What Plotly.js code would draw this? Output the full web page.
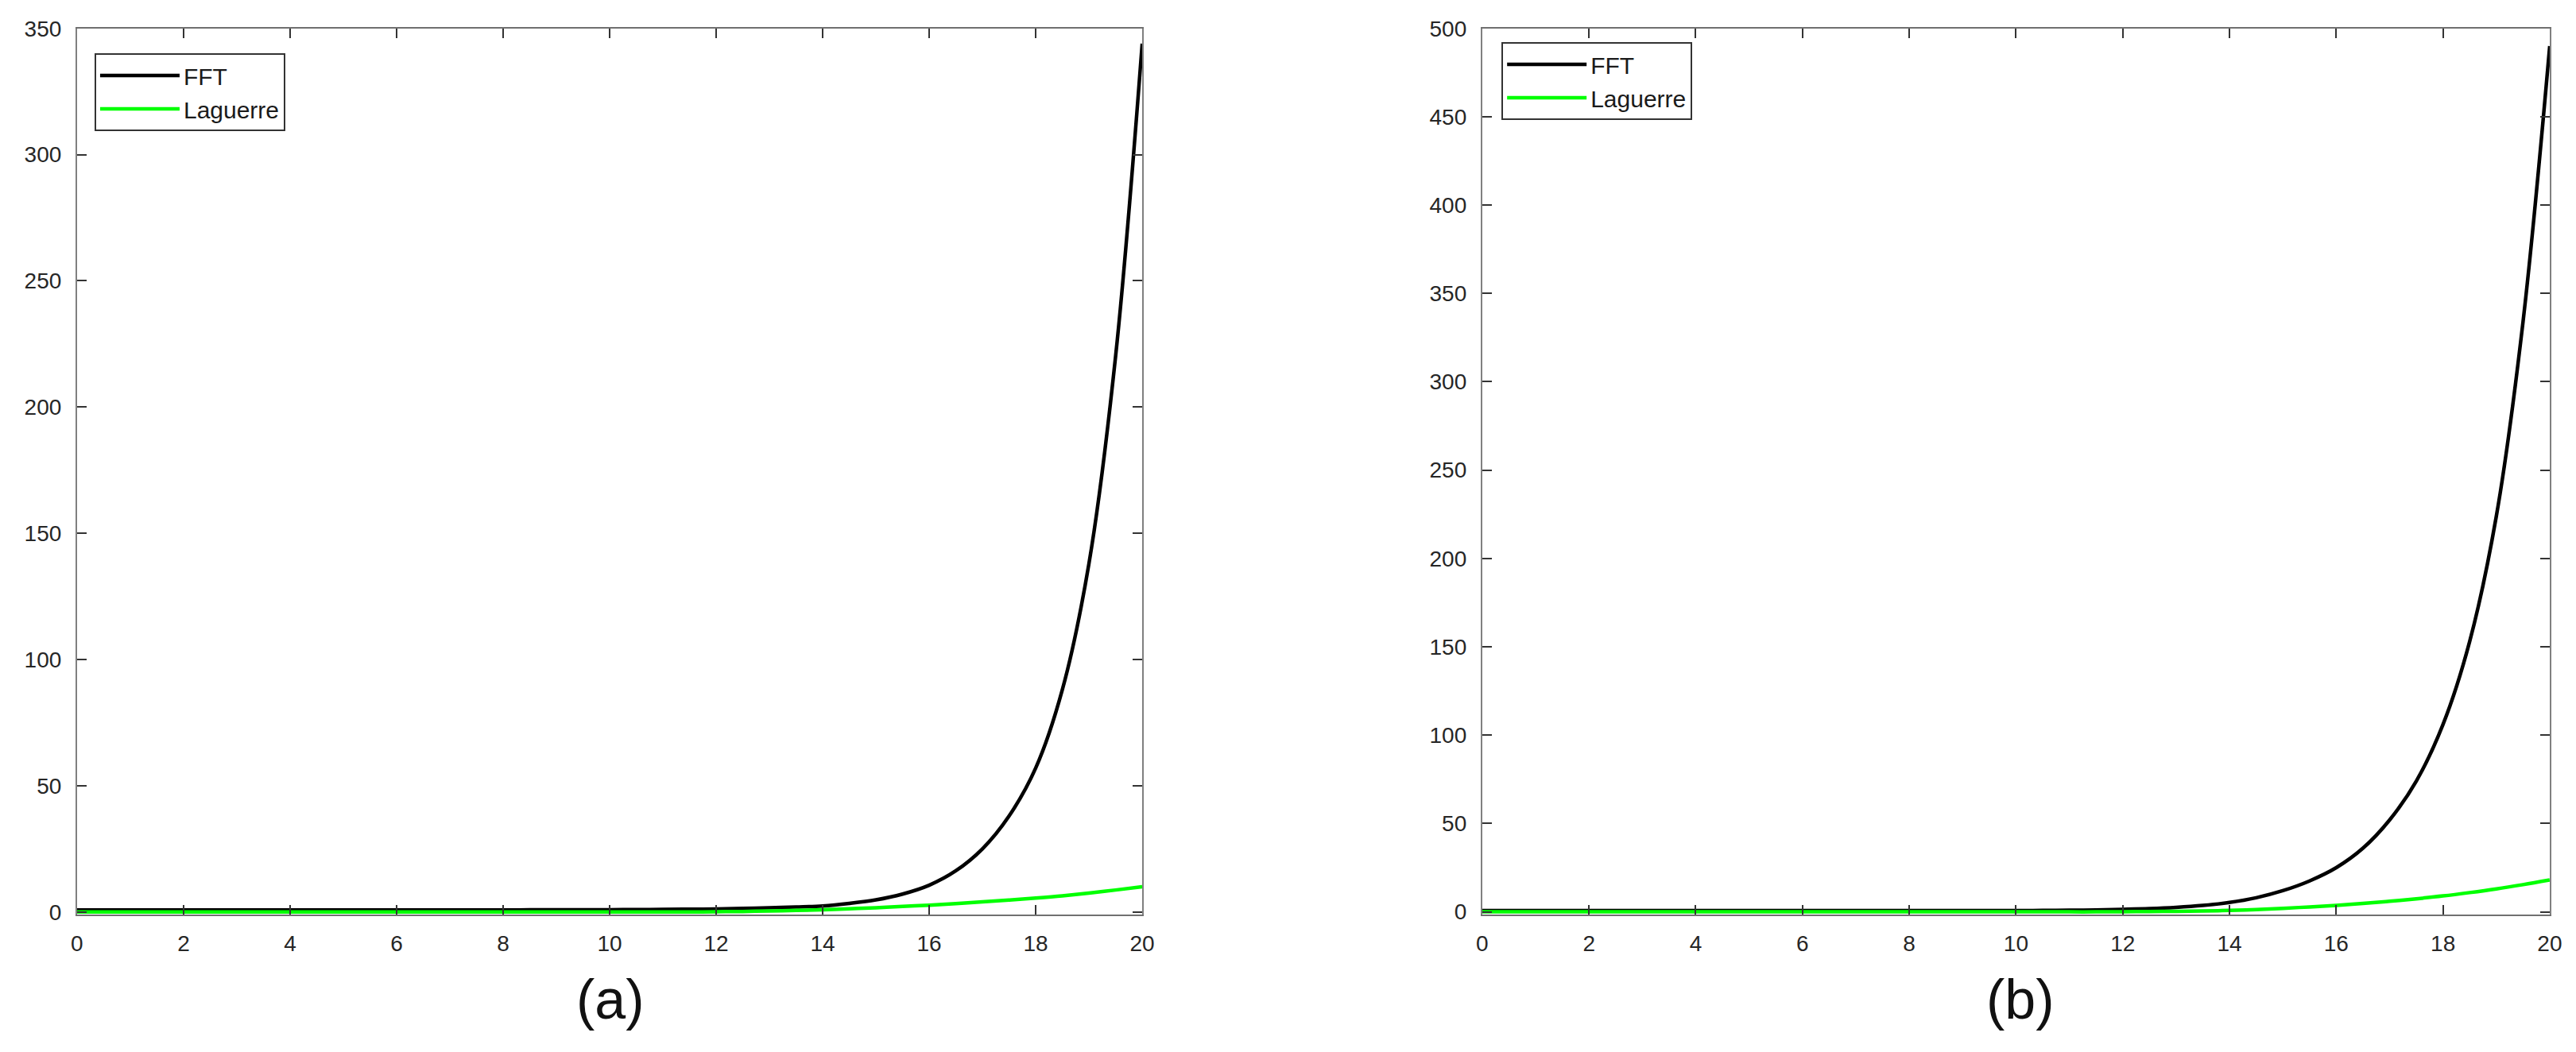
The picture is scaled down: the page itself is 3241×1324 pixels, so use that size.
<!DOCTYPE html>
<html>
<head>
<meta charset="utf-8">
<script src="https://cdn.plot.ly/plotly-3.0.1.min.js"></script>
<style>html,body{margin:0;padding:0;background:#fff;}#chart{width:3241px;height:1324px;}</style>
</head>
<body>
<div id="chart"></div>
<script>
// x grid (shared by both panels)
const xs = [0,0.5,1,1.5,2,2.5,3,3.5,4,4.5,5,5.5,6,6.5,7,7.5,8,8.5,9,9.5,10,10.5,11,11.5,12,12.5,13,13.5,14,14.5,15,15.5,16,16.5,17,17.5,18,18.5,19,19.5,20];

// Panel (a)
const fftA = [0.8,0.8,0.8,0.8,0.8,0.8,0.8,0.8,0.8,0.8,0.8,0.8,0.8,0.8,0.8,0.8,0.8,0.85,0.9,0.9,0.9,0.95,1.0,1.1,1.2,1.4,1.7,2.0,2.4,3.4,4.8,7.1,10.6,16.3,25,38,57,88,138,220,344];
const lagA = [0,0,0,0,0,0,0,0,0,0,0,0,0,0,0,0,0,0,0,0,0,0,0,0,0.1,0.2,0.4,0.6,0.9,1.3,1.7,2.2,2.7,3.3,4.0,4.7,5.5,6.4,7.5,8.7,10];

// Panel (b)
const fftB = [0.7,0.7,0.7,0.7,0.7,0.7,0.7,0.7,0.7,0.7,0.7,0.7,0.7,0.7,0.7,0.7,0.7,0.7,0.7,0.7,0.7,0.8,0.9,1.1,1.4,1.8,2.5,3.6,5.3,8,12,17.5,25,36,52,74,106,153,224,334,490];
const lagB = [0,0,0,0,0,0,0,0,0,0,0,0,0,0,0,0,0,0,0,0,0,0,0,0,0.1,0.2,0.3,0.5,0.8,1.3,2.0,2.8,3.7,4.8,6.0,7.4,9.0,10.9,13,15.4,18];

const seriesNames = ['FFT', 'Laguerre'];
const panelLabels = ['(a)', '(b)'];
const xTicks = [0,2,4,6,8,10,12,14,16,18,20];
const yTicksA = [0,50,100,150,200,250,300,350];
const yTicksB = [0,50,100,150,200,250,300,350,400,450,500];

const FONT = 'Liberation Sans, Arial, Helvetica, sans-serif';
const tickFont = {family: FONT, size: 28, color: '#262626'};

function line(color) {
  return {color: color, width: 4.5, shape: 'spline', smoothing: 1};
}

const traces = [
  {x: xs, y: fftA, name: seriesNames[0], type: 'scatter', mode: 'lines', line: line('#000000'), xaxis: 'x', yaxis: 'y', legend: 'legend'},
  {x: xs, y: lagA, name: seriesNames[1], type: 'scatter', mode: 'lines', line: line('#00ff00'), xaxis: 'x', yaxis: 'y', legend: 'legend'},
  {x: xs, y: fftB, name: seriesNames[0], type: 'scatter', mode: 'lines', line: line('#000000'), xaxis: 'x2', yaxis: 'y2', legend: 'legend2'},
  {x: xs, y: lagB, name: seriesNames[1], type: 'scatter', mode: 'lines', line: line('#00ff00'), xaxis: 'x2', yaxis: 'y2', legend: 'legend2'}
];

function xAxis(domain, anchor) {
  return {
    domain: domain, anchor: anchor, range: [0, 20],
    tickvals: xTicks, ticktext: xTicks.map(String),
    ticks: 'inside', ticklen: 12, tickwidth: 2, tickcolor: '#333',
    showline: true, linecolor: '#707070', linewidth: 2, mirror: 'ticks',
    showgrid: false, zeroline: false, tickfont: tickFont, ticklabelstandoff: 10
  };
}
function yAxis(range, ticks, anchor) {
  return {
    domain: [0.1307, 0.973], anchor: anchor, range: range,
    tickvals: ticks, ticktext: ticks.map(String),
    ticks: 'inside', ticklen: 12, tickwidth: 2, tickcolor: '#333',
    showline: true, linecolor: '#808080', linewidth: 2, mirror: 'ticks',
    showgrid: false, zeroline: false, tickfont: tickFont, ticklabelstandoff: 12
  };
}

const legendBase = {
  xanchor: 'left', yanchor: 'top', bgcolor: '#ffffff',
  bordercolor: '#333333', borderwidth: 2,
  font: {family: FONT, size: 30, color: '#1a1a1a'},
  itemwidth: 100, tracegroupgap: 0
};

const layout = {
  width: 3241, height: 1324,
  margin: {l: 0, r: 0, t: 0, b: 0},
  paper_bgcolor: '#ffffff', plot_bgcolor: '#ffffff',
  showlegend: true,
  xaxis: xAxis([0.0299, 0.4434], 'y'),
  yaxis: yAxis([-1, 350], yTicksA, 'x'),
  xaxis2: xAxis([0.5754, 0.9898], 'y2'),
  yaxis2: yAxis([-1.5, 500], yTicksB, 'x2'),
  legend: Object.assign({x: 0.0367, y: 0.9494}, legendBase),
  legend2: Object.assign({x: 0.5829, y: 0.960}, legendBase),
  annotations: [
    {text: panelLabels[0], xref: 'paper', yref: 'paper', x: 0.237, y: 0.05, xanchor: 'center', yanchor: 'middle', showarrow: false, font: {family: FONT, size: 70, color: '#111'}},
    {text: panelLabels[1], xref: 'paper', yref: 'paper', x: 0.7844, y: 0.05, xanchor: 'center', yanchor: 'middle', showarrow: false, font: {family: FONT, size: 70, color: '#111'}}
  ]
};

Plotly.newPlot('chart', traces, layout, {staticPlot: true, displayModeBar: false});
</script>
</body>
</html>
